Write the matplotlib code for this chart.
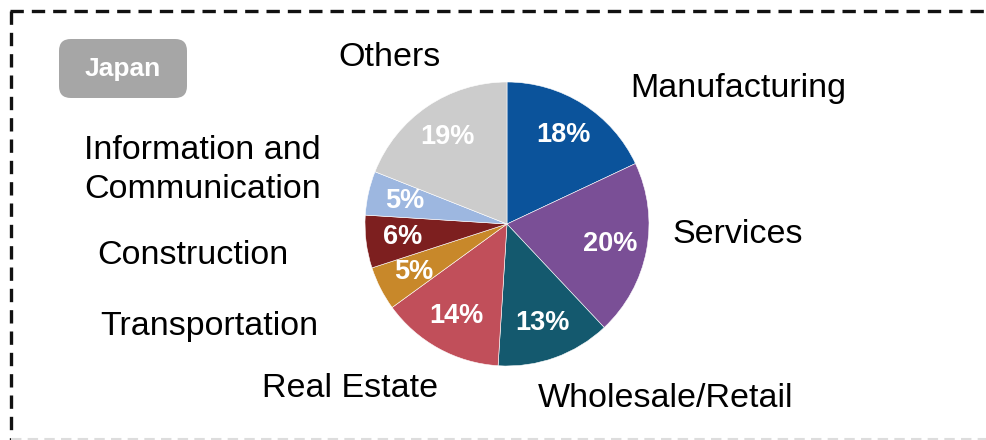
import matplotlib.pyplot as plt
from matplotlib.patches import FancyBboxPatch
from matplotlib.lines import Line2D

# data
sectors = ["Manufacturing", "Services", "Wholesale/Retail", "Real Estate",
           "Transportation", "Construction", "Information and\nCommunication", "Others"]
shares = [18, 20, 13, 14, 5, 6, 5, 19]
colors = ["#0b539b", "#7a4f96", "#14596e", "#c14f5a",
          "#c8882a", "#7d1f1f", "#9db7e0", "#cccccc"]

# where the outer labels sit (pixel coords, from top-left)
label_pos = [(738, 88, "center"), (738, 234, "center"), (666, 398, "center"),
             (350, 388, "center"), (100, 326, "left"), (97, 255, "left"),
             (84, 170, "left"), (390, 57, "center")]

W, H = 986, 440
plt.rcParams["font.family"] = ["Liberation Sans", "DejaVu Sans"]
fig = plt.figure(figsize=(W / 100, H / 100), dpi=100)


def px(x, y):
    return x / W, 1 - y / H


# dashed frame (right and bottom run off the picture)
dash = dict(color="#111111", lw=2.4, linestyle=(0, (4, 2.4)), transform=fig.transFigure)
fig.add_artist(Line2D([10 / W, 1.01], [1 - 11 / H] * 2, **dash))
fig.add_artist(Line2D([11 / W] * 2, [1 - 11 / H, -0.01], **dash))
fig.add_artist(Line2D([11 / W, 1.01], [1 - 439 / H] * 2, color="#dddddd", lw=1.5,
                      linestyle=(0, (5, 3)), transform=fig.transFigure))

# Japan badge
x0, y0 = px(59, 98)
x1, y1 = px(187, 39)
fig.add_artist(FancyBboxPatch((x0, y0), x1 - x0, y1 - y0,
                              boxstyle="round,pad=0,rounding_size=0.012",
                              transform=fig.transFigure, facecolor="#a6a6a6",
                              edgecolor="none", mutation_aspect=W / H))
fig.text(*px(123, 69), "Japan", color="white", fontsize=19, fontweight="bold",
         ha="center", va="center")

# pie
ax = fig.add_axes([365 / W, 1 - 366 / H, 284 / W, 284 / H])
wedges, texts, autotexts = ax.pie(
    shares, colors=colors, startangle=90, counterclock=False, radius=1,
    autopct="%d%%", pctdistance=0.74,
    wedgeprops=dict(edgecolor="white", linewidth=0.4),
    textprops=dict(color="white", fontsize=19.5, fontweight="bold"))
ax.set_xlim(-1, 1)
ax.set_ylim(-1, 1)
ax.set_aspect("auto")
ax.axis("off")

for name, (x, y, ha) in zip(sectors, label_pos):
    fig.text(*px(x, y), name, fontsize=24.5, ha=ha, va="center",
             color="black", linespacing=1.3)

fig.savefig("out.png", dpi=100)
